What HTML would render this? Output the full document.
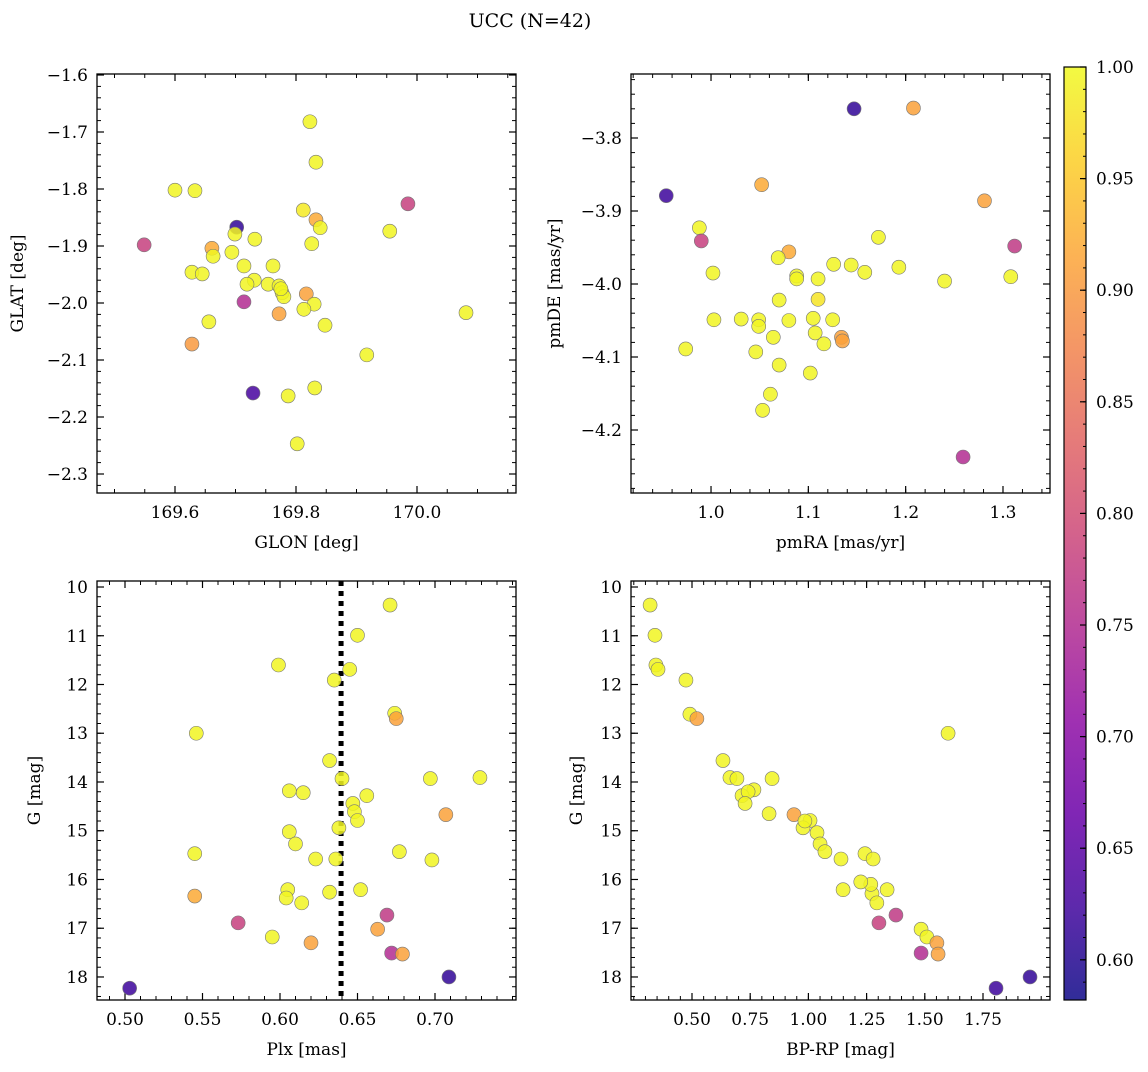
<!DOCTYPE html>
<html><head><meta charset="utf-8"><style>
body{margin:0;background:#fff;}
svg text{font-family:"DejaVu Serif","Liberation Serif",serif;fill:#000;}
</style></head><body>
<svg id="fig" width="1148" height="1067" viewBox="0 0 1148 1067" xmlns="http://www.w3.org/2000/svg">
<defs><linearGradient id="cg" x1="0" y1="1" x2="0" y2="0">
<stop offset="0" stop-color="#0d0887"/><stop offset="0.1" stop-color="#41049d"/><stop offset="0.2" stop-color="#6a00a8"/><stop offset="0.3" stop-color="#8f0da4"/><stop offset="0.4" stop-color="#b12a90"/><stop offset="0.5" stop-color="#cc4778"/><stop offset="0.6" stop-color="#e16462"/><stop offset="0.7" stop-color="#f2844b"/><stop offset="0.8" stop-color="#fca636"/><stop offset="0.9" stop-color="#fcce25"/><stop offset="1" stop-color="#f0f921"/>
</linearGradient></defs>
<text x="530" y="27" font-size="19" text-anchor="middle">UCC (N=42)</text>
</svg>
<script>
// Panel 1: GLON / GLAT
const glon=[169.823,169.833,169.600,169.633,169.985,169.812,169.833,169.840,169.702,169.699,169.955,169.732,169.549,169.826,169.661,169.694,169.663,169.714,169.762,169.628,169.645,169.731,169.719,169.754,169.772,169.777,169.780,169.817,169.714,169.830,169.813,169.772,170.081,169.848,169.656,169.628,169.917,169.729,169.831,169.787,169.802,169.775];
const glat=[-1.682,-1.753,-1.802,-1.803,-1.826,-1.837,-1.854,-1.868,-1.867,-1.879,-1.874,-1.888,-1.898,-1.896,-1.904,-1.911,-1.918,-1.935,-1.935,-1.946,-1.949,-1.960,-1.967,-1.967,-1.970,-1.982,-1.989,-1.984,-1.998,-2.002,-2.011,-2.019,-2.017,-2.039,-2.033,-2.072,-2.091,-2.158,-2.149,-2.163,-2.247,-1.975];
const prob1=[0.995,0.995,0.995,0.995,0.78,0.985,0.92,0.995,0.61,0.995,0.995,0.995,0.78,0.995,0.92,0.995,0.995,0.995,0.995,0.995,0.995,0.995,0.995,0.995,0.995,0.995,0.995,0.91,0.75,0.995,0.995,0.91,0.995,0.995,0.995,0.90,0.995,0.63,0.995,0.995,0.995,0.995];
// Panel 2: pmRA / pmDE
const pmra=[1.147,1.208,0.954,1.052,1.281,0.988,0.990,1.172,1.312,1.080,1.069,1.126,1.144,1.193,1.158,1.002,1.088,1.088,1.110,1.308,1.240,1.110,1.070,1.031,1.003,1.049,1.105,1.125,1.049,1.107,1.064,1.134,1.135,1.116,0.974,1.046,1.070,1.102,1.061,1.053,1.259,1.08];
const pmde=[-3.760,-3.759,-3.879,-3.864,-3.886,-3.923,-3.941,-3.936,-3.948,-3.956,-3.964,-3.973,-3.974,-3.977,-3.984,-3.985,-3.989,-3.993,-3.993,-3.990,-3.996,-4.021,-4.022,-4.048,-4.049,-4.049,-4.047,-4.049,-4.058,-4.067,-4.073,-4.073,-4.078,-4.082,-4.089,-4.093,-4.111,-4.122,-4.151,-4.173,-4.237,-4.05];
const prob2=[0.61,0.91,0.62,0.92,0.91,0.995,0.78,0.995,0.77,0.92,0.995,0.995,0.995,0.995,0.995,0.995,0.995,0.995,0.995,0.995,0.995,0.98,0.995,0.995,0.995,0.995,0.995,0.995,0.995,0.995,0.995,0.91,0.91,0.995,0.995,0.995,0.995,0.995,0.995,0.995,0.75,0.995];
// Panel 3: Plx / G
const plx=[0.671,0.650,0.599,0.645,0.635,0.674,0.675,0.546,0.632,0.640,0.606,0.615,0.697,0.729,0.656,0.647,0.648,0.650,0.707,0.638,0.606,0.610,0.545,0.677,0.623,0.636,0.698,0.605,0.652,0.632,0.545,0.604,0.614,0.669,0.573,0.663,0.595,0.620,0.672,0.679,0.709,0.503];
const gmag3=[10.37,10.99,11.60,11.69,11.91,12.59,12.70,13.00,13.56,13.93,14.18,14.22,13.93,13.91,14.28,14.44,14.61,14.79,14.67,14.94,15.02,15.27,15.47,15.43,15.58,15.58,15.60,16.21,16.21,16.26,16.34,16.38,16.48,16.73,16.89,17.02,17.18,17.30,17.51,17.53,18.00,18.23];
const prob3=[0.995,0.995,0.995,0.995,0.995,0.995,0.91,0.995,0.995,0.995,0.995,0.995,0.995,0.995,0.995,0.995,0.995,0.995,0.91,0.995,0.995,0.995,0.995,0.995,0.995,0.995,0.995,0.995,0.995,0.995,0.92,0.995,0.995,0.77,0.78,0.91,0.995,0.91,0.75,0.91,0.61,0.62];
// Panel 4: BP-RP / G
const bprp=[0.320,0.341,0.345,0.354,0.474,0.491,0.521,1.600,0.633,0.663,0.693,0.844,0.766,0.715,0.741,0.728,0.831,0.938,1.007,0.977,1.037,1.050,1.071,1.243,1.140,1.278,1.149,1.338,1.273,1.294,1.376,1.303,1.484,1.509,1.552,1.557,1.484,1.952,1.806,1.268,1.225,0.985];
const gmag4=[10.37,10.99,11.60,11.69,11.91,12.61,12.70,13.00,13.56,13.91,13.93,13.93,14.16,14.28,14.20,14.44,14.65,14.67,14.79,14.94,15.04,15.27,15.43,15.47,15.58,15.58,16.21,16.21,16.29,16.48,16.73,16.89,17.02,17.18,17.30,17.53,17.51,18.00,18.23,16.10,16.05,14.80];
const prob4=[0.995,0.995,0.995,0.995,0.995,0.995,0.91,0.995,0.995,0.995,0.995,0.995,0.995,0.995,0.995,0.995,0.995,0.91,0.995,0.995,0.995,0.995,0.995,0.995,0.995,0.995,0.995,0.995,0.995,0.995,0.77,0.78,0.995,0.995,0.91,0.91,0.75,0.61,0.62,0.995,0.995,0.995];
const tk1x=[169.6,169.8,170.0], tk1y=[-1.6,-1.7,-1.8,-1.9,-2.0,-2.1,-2.2,-2.3];
const tk2x=[1.0,1.1,1.2,1.3], tk2y=[-3.8,-3.9,-4.0,-4.1,-4.2];
const tk3x=[0.50,0.55,0.60,0.65,0.70], tkG=[10,11,12,13,14,15,16,17,18];
const tk4x=[0.50,0.75,1.00,1.25,1.50,1.75];
const cbTicks=[0.60,0.65,0.70,0.75,0.80,0.85,0.90,0.95,1.00];
const plxLine=0.6394;
const VMIN=0.582,VMAX=1.0;

const NS="http://www.w3.org/2000/svg";
const svg=document.getElementById('fig');
function mk(tag,attrs,parent){const e=document.createElementNS(NS,tag);for(const k in attrs)e.setAttribute(k,attrs[k]);(parent||svg).appendChild(e);return e;}
const stops=[[13,8,135],[65,4,157],[106,0,168],[143,13,164],[177,42,144],[204,71,120],[225,100,98],[242,132,75],[252,166,54],[252,206,37],[240,249,33]];
function cmap(p){let t=(p-VMIN)/(VMAX-VMIN);t=Math.max(0,Math.min(1,t))*10;const i=Math.min(9,Math.floor(t)),f=t-i;const a=stops[i],b=stops[i+1];return 'rgb('+a.map((v,k)=>Math.round(v+(b[k]-v)*f)).join(',')+')';}

function panel(o){
  const g=mk('g',{});
  
  
  const X=v=>o.L+(v-o.x0)/(o.x1-o.x0)*(o.R-o.L);
  const Y=v=>o.T+(v-o.y0)/(o.y1-o.y0)*(o.B-o.T);
  const mx=o.xstep/o.xmin, my=o.ystep/o.ymin;
  const lo=Math.min(o.x0,o.x1),hi=Math.max(o.x0,o.x1);
  for(let v=Math.ceil(lo/mx-1e-6)*mx;v<=hi+1e-9;v+=mx){const x=X(v);mk('line',{x1:x,x2:x,y1:o.B,y2:o.B-4,stroke:'#000','stroke-width':1},g);mk('line',{x1:x,x2:x,y1:o.T,y2:o.T+4,stroke:'#000','stroke-width':1},g);}
  const ylo=Math.min(o.y0,o.y1),yhi=Math.max(o.y0,o.y1);
  for(let v=Math.ceil(ylo/my-1e-6)*my;v<=yhi+1e-9;v+=my){const y=Y(v);mk('line',{x1:o.L,x2:o.L+4,y1:y,y2:y,stroke:'#000','stroke-width':1},g);mk('line',{x1:o.R,x2:o.R-4,y1:y,y2:y,stroke:'#000','stroke-width':1},g);}
  o.xt.forEach(v=>{const x=X(v);mk('line',{x1:x,x2:x,y1:o.B,y2:o.B-7,stroke:'#000','stroke-width':1.2},g);mk('line',{x1:x,x2:x,y1:o.T,y2:o.T+7,stroke:'#000','stroke-width':1.2},g);
    const t=mk('text',{x:x,y:o.B+25,'font-size':17,'text-anchor':'middle'},g);t.textContent=v.toFixed(o.xd);});
  o.yt.forEach(v=>{const y=Y(v);if(y<o.T-1||y>o.B+1)return;mk('line',{x1:o.L,x2:o.L+7,y1:y,y2:y,stroke:'#000','stroke-width':1.2},g);mk('line',{x1:o.R,x2:o.R-7,y1:y,y2:y,stroke:'#000','stroke-width':1.2},g);
    const t=mk('text',{x:o.L-9,y:y+6,'font-size':17,'text-anchor':'end'},g);t.textContent=(v<0?'\u2212':'')+Math.abs(v).toFixed(o.yd);});
  if(o.vline!==undefined){const l=mk('line',{x1:X(o.vline),x2:X(o.vline),y1:o.T,y2:o.B,stroke:'#000','stroke-width':5,'stroke-dasharray':'5,5'},g);}
  o.xs.forEach((v,i)=>{const c=mk('circle',{cx:X(v),cy:Y(o.ys[i]),r:7,fill:cmap(o.ps[i]),'fill-opacity':0.85,stroke:'#777','stroke-width':0.6},g);
    
    });
  mk('rect',{x:o.L,y:o.T,width:o.R-o.L,height:o.B-o.T,fill:'none',stroke:'#000','stroke-width':1.3},g);
  const xl=mk('text',{x:(o.L+o.R)/2,y:o.B+55,'font-size':17,'text-anchor':'middle'},g);xl.textContent=o.xlab;
  const yl=mk('text',{x:0,y:0,'font-size':17,'text-anchor':'middle',transform:`translate(${o.ylx},${(o.T+o.B)/2}) rotate(-90)`},g);yl.textContent=o.ylab;
}
panel({name:'glon-glat-panel',L:97,R:516,T:74,B:493,x0:169.6-78/605,x1:170.0+99/605,y0:-1.6+1/570,y1:-2.3-19/570,xs:glon,ys:glat,ps:prob1,xt:tk1x,yt:tk1y,xd:1,yd:1,xstep:0.2,xmin:4,ystep:0.1,ymin:5,xlab:'GLON [deg]',ylab:'GLAT [deg]',ylx:23});
panel({name:'proper-motion-panel',L:631,R:1050,T:74,B:493,x0:1.0-80/973,x1:1.3+47/973,y0:-3.8+64/730,y1:-4.2-63/730,xs:pmra,ys:pmde,ps:prob2,xt:tk2x,yt:tk2y,xd:1,yd:1,xstep:0.1,xmin:5,ystep:0.1,ymin:5,xlab:'pmRA [mas/yr]',ylab:'pmDE [mas/yr]',ylx:560});
panel({name:'plx-g-panel',L:97,R:516,T:581,B:1000,x0:0.5-28/1550,x1:0.70+81/1550,y0:10-6/48.7,y1:18+23/48.7,xs:plx,ys:gmag3,ps:prob3,xt:tk3x,yt:tkG,xd:2,yd:0,xstep:0.05,xmin:5,ystep:1,ymin:5,xlab:'Plx [mas]',ylab:'G [mag]',ylx:40,vline:plxLine});
panel({name:'cmd-panel',L:631,R:1050,T:581,B:1000,x0:0.5-61/232.8,x1:1.75+67/232.8,y0:10-6/48.7,y1:18+23/48.7,xs:bprp,ys:gmag4,ps:prob4,xt:tk4x,yt:tkG,xd:2,yd:0,xstep:0.25,xmin:5,ystep:1,ymin:5,xlab:'BP-RP [mag]',ylab:'G [mag]',ylx:582});
const cb=mk('g',{});


const cT=67,cB=1000,cL=1064,cR=1086;
mk('rect',{x:cL,y:cT,width:cR-cL,height:cB-cT,fill:'url(#cg)','fill-opacity':0.85},cb);
mk('rect',{x:cL,y:cT,width:cR-cL,height:cB-cT,fill:'none',stroke:'#000','stroke-width':1.2},cb);
const CY=v=>cB-(v-VMIN)/(VMAX-VMIN)*(cB-cT);
for(let v=0.59;v<=1.0001;v+=0.01){const y=CY(v);mk('line',{x1:cR,x2:cR-3,y1:y,y2:y,stroke:'#000','stroke-width':1},cb);}
cbTicks.forEach(v=>{const y=CY(v);mk('line',{x1:cR,x2:cR-6,y1:y,y2:y,stroke:'#000','stroke-width':1.2},cb);
  const t=mk('text',{x:cR+10,y:y+6,'font-size':17},cb);t.textContent=v.toFixed(2);});
</script>
</body></html>
